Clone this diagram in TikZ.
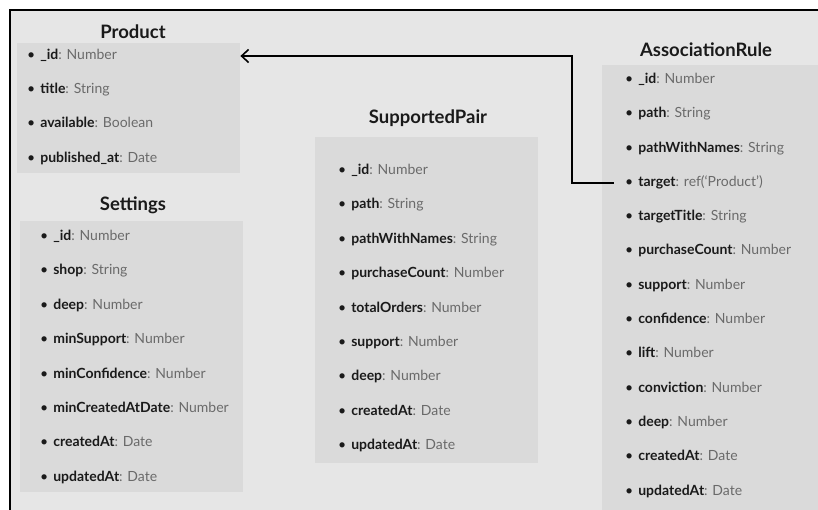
\documentclass[tikz,border=0pt]{standalone}
\usepackage{fontspec}
\setmainfont{Lato}
\usetikzlibrary{arrows.meta,calc}
\definecolor{pageGray}{HTML}{E6E6E6}
\definecolor{boxGray}{HTML}{DADADA}
\definecolor{typeGray}{HTML}{6A6A6A}
\definecolor{nameBlack}{HTML}{1A1A1A}
\tikzset{
	tableBox/.style={
		fill=boxGray,
		draw=none,
		anchor=north west,
		inner sep=0pt
	},
	tableTitle/.style={
		font=\bfseries\fontsize{18.5}{22}\selectfont,
		text=nameBlack,
		inner sep=0pt
	},
	fieldNode/.style={
		anchor=west,
		inner sep=0pt,
		text height=10pt,
		text depth=3pt,
		font=\fontsize{14}{16}\selectfont,
		text=nameBlack
	},
	refArrow/.style={
		draw=black,
		line width=1.6pt,
		{Straight Barb[length=7pt,width=13pt,line width=1.6pt]}-
	},
}
\newcommand{\fieldText}[2]{\textbullet\hspace{5pt}\textbf{#1}\textcolor{typeGray}{: #2}}

\begin{document}
\begin{tikzpicture}[x=1pt,y=-1pt]
\useasboundingbox (0,0) rectangle (818,510);
\fill[pageGray] (10,10) rectangle (830,520);
\draw[line width=1.6pt] (10,520) -- (10,10) -- (830,10);
% Product
\node[tableTitle] (prodTitle) at (133,32) {Product};
\node[tableBox, minimum width=223pt, minimum height=130pt] (prodBox) at (17,43) {};
\foreach \fname/\ftype [count=\i] in {\_id/Number, title/String, available/Boolean, published\_at/Date}
	\node[fieldNode] (prod-\i) at (27,56+34.2*\i-34.2) {\fieldText{\fname}{\ftype}};
% Settings
\node[tableTitle] (setTitle) at (133,205) {Settings};
\node[tableBox, minimum width=223pt, minimum height=271pt] (setBox) at (20,221) {};
\foreach \fname/\ftype [count=\i] in {\_id/Number, shop/String, deep/Number, minSupport/Number,
		minConfidence/Number, minCreatedAtDate/Number, createdAt/Date, updatedAt/Date}
	\node[fieldNode] (set-\i) at (40,237+34.4*\i-34.4) {\fieldText{\fname}{\ftype}};
% SupportedPair
\node[tableTitle] (spTitle) at (428,118) {SupportedPair};
\node[tableBox, minimum width=223pt, minimum height=326pt] (spBox) at (315,137) {};
\foreach \fname/\ftype [count=\i] in {\_id/Number, path/String, pathWithNames/String, purchaseCount/Number,
		totalOrders/Number, support/Number, deep/Number, createdAt/Date, updatedAt/Date}
	\node[fieldNode] (sp-\i) at (338,171+34.4*\i-34.4) {\fieldText{\fname}{\ftype}};
% AssociationRule
\node[tableTitle] (arTitle) at (706,50) {AssociationRule};
\node[tableBox, minimum width=230pt, minimum height=460pt] (arBox) at (602,65) {};
\foreach \fname/\ftype [count=\i] in {\_id/Number, path/String, pathWithNames/String, target/ref(`Product'),
		targetTitle/String, purchaseCount/Number, support/Number, confidence/Number, lift/Number,
		conviction/Number, deep/Number, createdAt/Date, updatedAt/Date}
	\node[fieldNode] (ar-\i) at (625,80+34.3*\i-34.3) {\fieldText{\fname}{\ftype}};
% target -> Product
\coordinate (bend) at (572,0);
\draw[refArrow] (prodBox.east |- prod-1) -- (bend |- prod-1) |- ([xshift=-11pt]ar-4.west);
\end{tikzpicture}
\end{document}
